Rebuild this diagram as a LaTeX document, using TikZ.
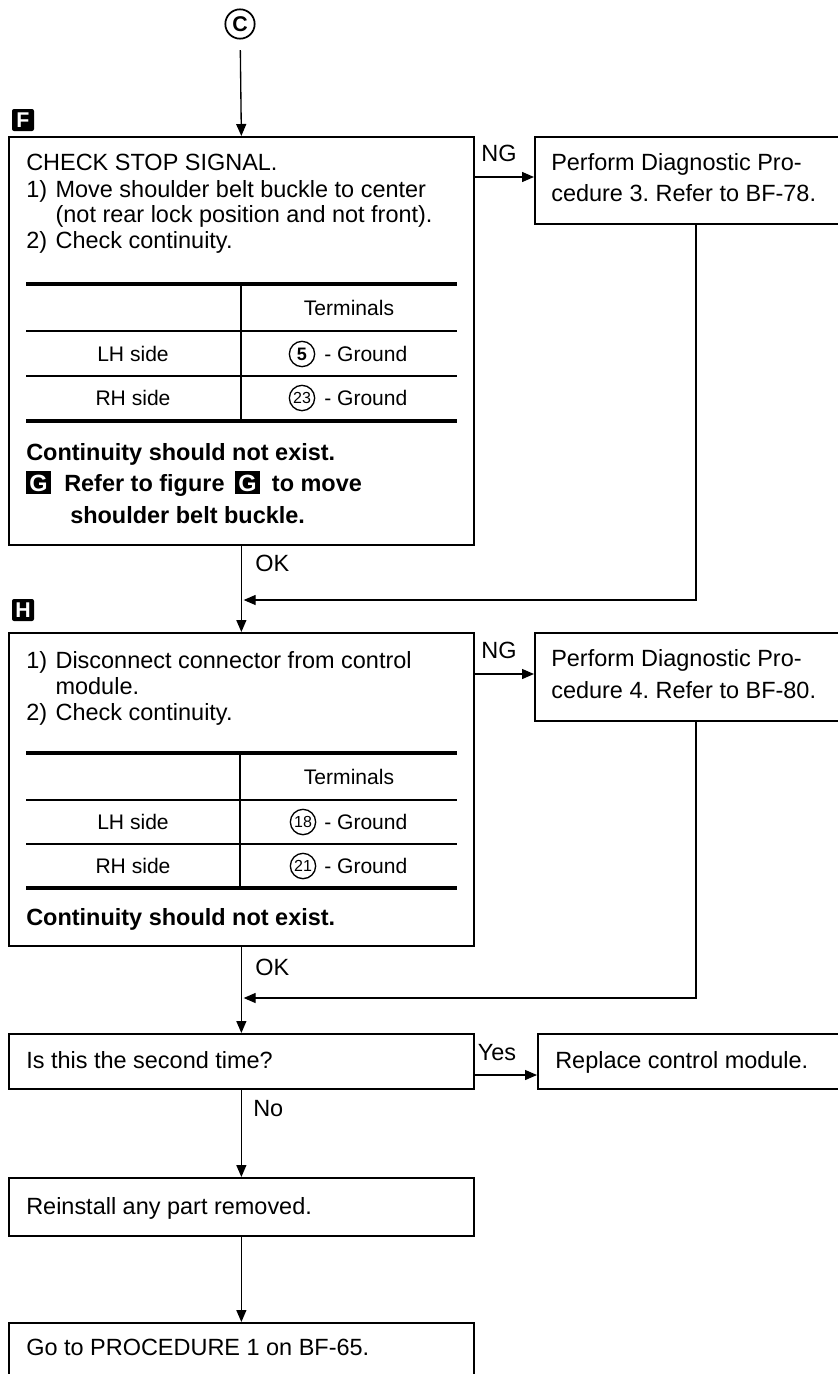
\documentclass[tikz,border=0pt]{standalone}
\usepackage{fontspec}
\setmainfont{Liberation Sans}
\usetikzlibrary{arrows.meta}
\frenchspacing
\def\pxu{0.75pt}
\newcommand\stepno[1]{\makebox[22pt][l]{#1}}
\newcommand\tagmark[1]{{\setlength{\fboxsep}{2.4pt}\colorbox{black}{\textcolor{white}{\bfseries #1}}}}

\begin{document}
\begin{tikzpicture}[x=0.75pt, y=-0.75pt,
  every node/.style={font=\fontsize{17.6}{20}\selectfont},
  stepbox/.style={draw, line width=1.3pt, anchor=north west, inner sep=0pt},
  txt/.style={anchor=base west, inner sep=0pt},
  tabtxt/.style={anchor=base, inner sep=0pt, font=\fontsize{15.8}{18}\selectfont},
  tagbox/.style={fill=black, text=white, inner sep=0pt, minimum size=16.5pt,
    rounded corners=1.5pt, font=\fontsize{16}{18}\selectfont\bfseries},
  circnum/.style={circle, draw, line width=1pt, inner sep=0pt, minimum size=19pt,
    font=\fontsize{12}{13}\selectfont},
  flow/.style={line width=1pt, -{Triangle[length=9pt, width=7.5pt]}},
  thickrule/.style={line width=2.6pt},
  thinrule/.style={line width=1pt}]
  \useasboundingbox (0,0) rectangle (838,1374);

  \node[circle, draw, line width=1.3pt, inner sep=0pt, minimum size=22pt,
    font=\fontsize{16}{18}\selectfont\bfseries] (cin) at (240,24) {C};

  \node[tagbox] (tagF) at (23,120) {F};
  \node[stepbox, minimum width=465*\pxu, minimum height=408*\pxu] (boxF) at (8,136) {};
  \node[stepbox, minimum width=322*\pxu, minimum height=87*\pxu] (diag3) at (534,136) {};
  \node[tagbox] (tagH) at (23,610) {H};
  \node[stepbox, minimum width=465*\pxu, minimum height=313*\pxu] (boxH) at (8,632) {};
  \node[stepbox, minimum width=322*\pxu, minimum height=88*\pxu] (diag4) at (534,632) {};
  \node[stepbox, minimum width=465*\pxu, minimum height=55*\pxu] (second) at (8,1033) {};
  \node[stepbox, minimum width=322*\pxu, minimum height=55*\pxu] (replace) at (537,1033) {};
  \node[stepbox, minimum width=465*\pxu, minimum height=58*\pxu] (reinstall) at (8,1177) {};
  \node[stepbox, minimum width=465*\pxu, minimum height=80*\pxu] (goproc) at (8,1322) {};

  \node[txt] (f1) at (26,170) {CHECK STOP SIGNAL.};
  \node[txt] (f2) at (26,197) {\stepno{1)}Move shoulder belt buckle to center};
  \node[txt] (f3) at (26,222) {\stepno{}(not rear lock position and not front).};
  \node[txt] (f4) at (26,248) {\stepno{2)}Check continuity.};

  \draw[thickrule] (26,284) -- (457,284) (26,421) -- (457,421);
  \draw[thinrule] (26,331) -- (457,331) (26,376) -- (457,376) (241,284) -- (241,421);
  \node[tabtxt] (ftermhead) at (349,315) {Terminals};
  \node[tabtxt] (flh) at (133,361) {LH side};
  \node[tabtxt] (frh) at (133,405) {RH side};
  \node[circnum, font=\fontsize{13.5}{14}\selectfont\bfseries] (n5) at (302,354) {5};
  \node[tabtxt, anchor=base west] (fg5) at (324,361) {- Ground};
  \node[circnum] (n23) at (302,398) {23};
  \node[tabtxt, anchor=base west] (fg23) at (324,405) {- Ground};

  \node[txt, font=\fontsize{17.6}{20}\selectfont\bfseries] (f5) at (26,460) {Continuity should not exist.};
  \node[txt, font=\fontsize{17.6}{20}\selectfont\bfseries] (f6) at (26,491)
    {\tagmark{G}\hspace{10pt}Refer to figure\hspace{8pt}\tagmark{G}\hspace{9pt}to move};
  \node[txt, font=\fontsize{17.6}{20}\selectfont\bfseries] (f7) at (70,523) {shoulder belt buckle.};

  \node[txt] (d3a) at (551,170) {Perform Diagnostic Pro-};
  \node[txt] (d3b) at (551,201) {cedure 3. Refer to BF-78.};

  \node[txt] (h1) at (26,668) {\stepno{1)}Disconnect connector from control};
  \node[txt] (h2) at (26,694) {\stepno{}module.};
  \node[txt] (h3) at (26,720) {\stepno{2)}Check continuity.};

  \draw[thickrule] (26,753) -- (457,753) (26,888) -- (457,888);
  \draw[thinrule] (26,800) -- (457,800) (26,844) -- (457,844) (240,753) -- (240,888);
  \node[tabtxt] (htermhead) at (349,784) {Terminals};
  \node[tabtxt] (hlh) at (133,829) {LH side};
  \node[tabtxt] (hrh) at (133,873) {RH side};
  \node[circnum] (n18) at (303,822) {18};
  \node[tabtxt, anchor=base west] (hg18) at (324,829) {- Ground};
  \node[circnum] (n21) at (303,866) {21};
  \node[tabtxt, anchor=base west] (hg21) at (324,873) {- Ground};
  \node[txt, font=\fontsize{17.6}{20}\selectfont\bfseries] (h4) at (26,925) {Continuity should not exist.};

  \node[txt] (d4a) at (551,666) {Perform Diagnostic Pro-};
  \node[txt] (d4b) at (551,698) {cedure 4. Refer to BF-80.};

  \node[txt] (q1) at (26,1068) {Is this the second time?};
  \node[txt] (r1) at (555,1068) {Replace control module.};
  \node[txt] (re1) at (26,1214) {Reinstall any part removed.};
  \node[txt] (g1) at (26,1355) {Go to PROCEDURE 1 on BF-65.};

  \node[txt, anchor=base] (ngl1) at (499,161) {NG};
  \node[txt, anchor=base] (ngl2) at (499,658) {NG};
  \node[txt] (okl1) at (255,571) {OK};
  \node[txt] (okl2) at (255,975) {OK};
  \node[txt, anchor=base] (yesl) at (497,1060) {Yes};
  \node[txt] (nol) at (253,1116) {No};

  \coordinate (ng1) at (473,177);
  \coordinate (ng2) at (473,674);
  \coordinate (m1) at (241,600);
  \coordinate (m2) at (241,998);
  \coordinate (yes) at (473,1075);

  \draw[flow, shorten <=8pt] (cin) -- (boxF.north);
  \draw[flow] (ng1) -- (ng1 -| diag3.west);
  \draw[flow, shorten >=2pt] (diag3.south) |- (m1);
  \draw[flow] (boxF.south) -- (boxH.north);
  \draw[flow] (ng2) -- (ng2 -| diag4.west);
  \draw[flow, shorten >=2pt] (diag4.south) |- (m2);
  \draw[flow] (boxH.south) -- (second.north);
  \draw[flow] (yes) -- (yes -| replace.west);
  \draw[flow] (second.south) -- (reinstall.north);
  \draw[flow] (reinstall.south) -- (goproc.north);
\end{tikzpicture}
\end{document}
